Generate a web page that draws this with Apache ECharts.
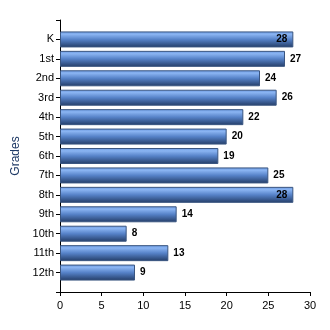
<!DOCTYPE html>
<html>
<head>
<meta charset="utf-8">
<script src="https://cdn.jsdelivr.net/npm/echarts@6/dist/echarts.min.js"></script>
<style>html,body{margin:0;padding:0;background:#fff}#c{width:330px;height:330px}</style>
</head>
<body>
<div id="c"></div>
<script>
var categories = ['K','1st','2nd','3rd','4th','5th','6th','7th','8th','9th','10th','11th','12th'];
var values = [28,27,24,26,22,20,19,25,28,14,8,13,9];
var xTicks = [0,5,10,15,20,25,30];
var axisTitle = 'Grades';

var FONT = 'Liberation Sans, Arial, sans-serif';
var xMax = xTicks[xTicks.length-1];
var cats = [''].concat(categories).concat(['']);
var data = [null].concat(values.map(function(v){
  var inside = v + 2 >= xMax;
  return {
    value: v,
    label: inside ? {position:'insideRight', distance:6} : {position:'right', distance:5}
  };
})).concat([null]);

var chart = echarts.init(document.getElementById('c'), null, {renderer:'canvas'});
chart.setOption({
  animation:false,
  backgroundColor:'#fff',
  grid:{left:60,right:20,top:20,bottom:38,containLabel:false},
  xAxis:{
    type:'value', min:0, max:xMax, interval:5,
    axisLine:{show:true,lineStyle:{color:'#000',width:1}},
    axisTick:{show:true,length:4,inside:false,lineStyle:{color:'#000'}},
    axisLabel:{color:'#000',fontFamily:FONT,fontSize:11,margin:8},
    splitLine:{show:false}
  },
  yAxis:{
    type:'category', data:cats, inverse:true, boundaryGap:false,
    name:axisTitle, nameLocation:'middle', nameRotate:90, nameGap:38,
    nameTextStyle:{color:'#1f3a66',fontFamily:FONT,fontSize:12},
    axisLine:{show:true,lineStyle:{color:'#000',width:1}},
    axisTick:{show:true,length:4,inside:false,interval:0,lineStyle:{color:'#000'}},
    axisLabel:{color:'#000',fontFamily:FONT,fontSize:11,margin:6,interval:0},
    splitLine:{show:false}
  },
  series:[{
    type:'bar',
    data:data,
    barWidth:16,
    itemStyle:{
      borderColor:'#3a5580',borderWidth:1,
      color:new echarts.graphic.LinearGradient(0,0,0,1,[
        {offset:0,color:'#6a98e0'},
        {offset:0.18,color:'#8ab4f2'},
        {offset:0.5,color:'#5682c8'},
        {offset:1,color:'#233c66'}
      ])
    },
    label:{show:true,color:'#000',fontFamily:FONT,fontSize:10,fontWeight:'bold'}
  }]
});
</script>
</body>
</html>
